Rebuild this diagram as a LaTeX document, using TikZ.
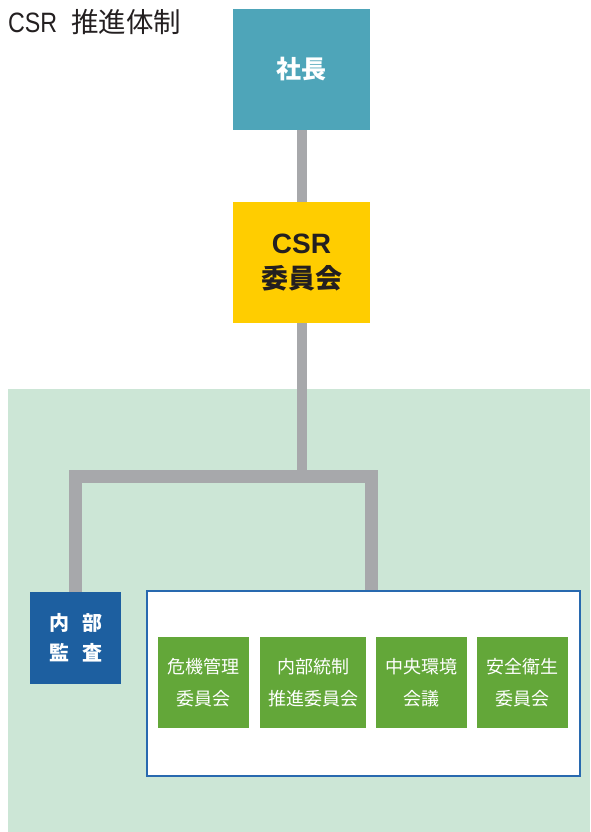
\documentclass[tikz,border=0pt]{standalone}
\usepackage{fontspec}
\setmainfont{Liberation Sans}
\newfontfamily\cjk{Noto Sans CJK JP}
\newfontfamily\titlelat{Liberation Sans}[FakeStretch=0.83]
\definecolor{teal}{RGB}{78,165,185}
\definecolor{yel}{RGB}{255,205,0}
\definecolor{conngray}{RGB}{167,168,171}
\definecolor{bggreen}{RGB}{204,230,214}
\definecolor{auditblue}{RGB}{29,95,160}
\definecolor{frameblue}{RGB}{40,105,175}
\definecolor{boxgreen}{RGB}{99,167,57}
\definecolor{ink}{RGB}{35,31,32}
\tikzset{
  topbox/.style={rectangle, minimum width=137pt, minimum height=121pt, inner sep=0pt, align=center},
  greenbox/.style={rectangle, fill=boxgreen, text=white, minimum height=91pt, inner sep=0pt, align=center,
    font=\cjk\fontsize{18}{32}\selectfont},
  connA/.style={draw=conngray, line width=10pt},
  connB/.style={draw=conngray, line width=13pt, line join=miter},
}
\begin{document}
\begin{tikzpicture}[x=1pt, y=-1pt]
\useasboundingbox (0,0) rectangle (590,832);
\fill[white] (0,0) rectangle (590,832);
\fill[bggreen] (8,389) rectangle (590,832);
\node[anchor=base west, inner sep=0pt, text=ink, font=\titlelat\fontsize{28}{30}\selectfont] (title) at (8,33) {CSR\hspace{14pt}{\cjk\fontsize{27.5}{30}\selectfont 推進体制}};
\node[topbox, fill=teal, text=white, font=\cjk\bfseries\fontsize{25}{30}\selectfont] (pres) at (301.5,69.5) {社長};
\node[topbox, fill=yel, text=ink, font=\bfseries\fontsize{28}{35}\selectfont] (csr) at (301.5,262.5) {CSR\\{\cjk\fontsize{27}{35}\selectfont 委員会}};
\node[rectangle, fill=auditblue, text=white, minimum width=91pt, minimum height=92pt, inner sep=0pt, align=center,
  font=\cjk\bfseries\fontsize{20}{30}\selectfont] (audit) at (75.5,638) {内\hspace{13pt}部\\監\hspace{13pt}査};
\node[rectangle, draw=frameblue, line width=1.5pt, fill=white, minimum width=433pt, minimum height=185pt, inner sep=0pt] (cmt) at (363.5,683.5) {};
\node[greenbox, minimum width=91pt] (g1) at (203.5,682.5) {危機管理\\委員会};
\node[greenbox, minimum width=106pt] (g2) at (313,682.5) {内部統制\\推進委員会};
\node[greenbox, minimum width=91pt] (g3) at (421.5,682.5) {中央環境\\会議};
\node[greenbox, minimum width=91pt] (g4) at (522.5,682.5) {安全衛生\\委員会};
\coordinate (j) at (301.5,476.5);
\coordinate (r) at (371.5,476.5);
\draw[connA] (pres.south) -- (csr.north);
\draw[connA] (csr.south) -- ([yshift=3pt]j);
\draw[connB] (audit.north) |- (r) -- (r |- cmt.north);
\end{tikzpicture}
\end{document}
